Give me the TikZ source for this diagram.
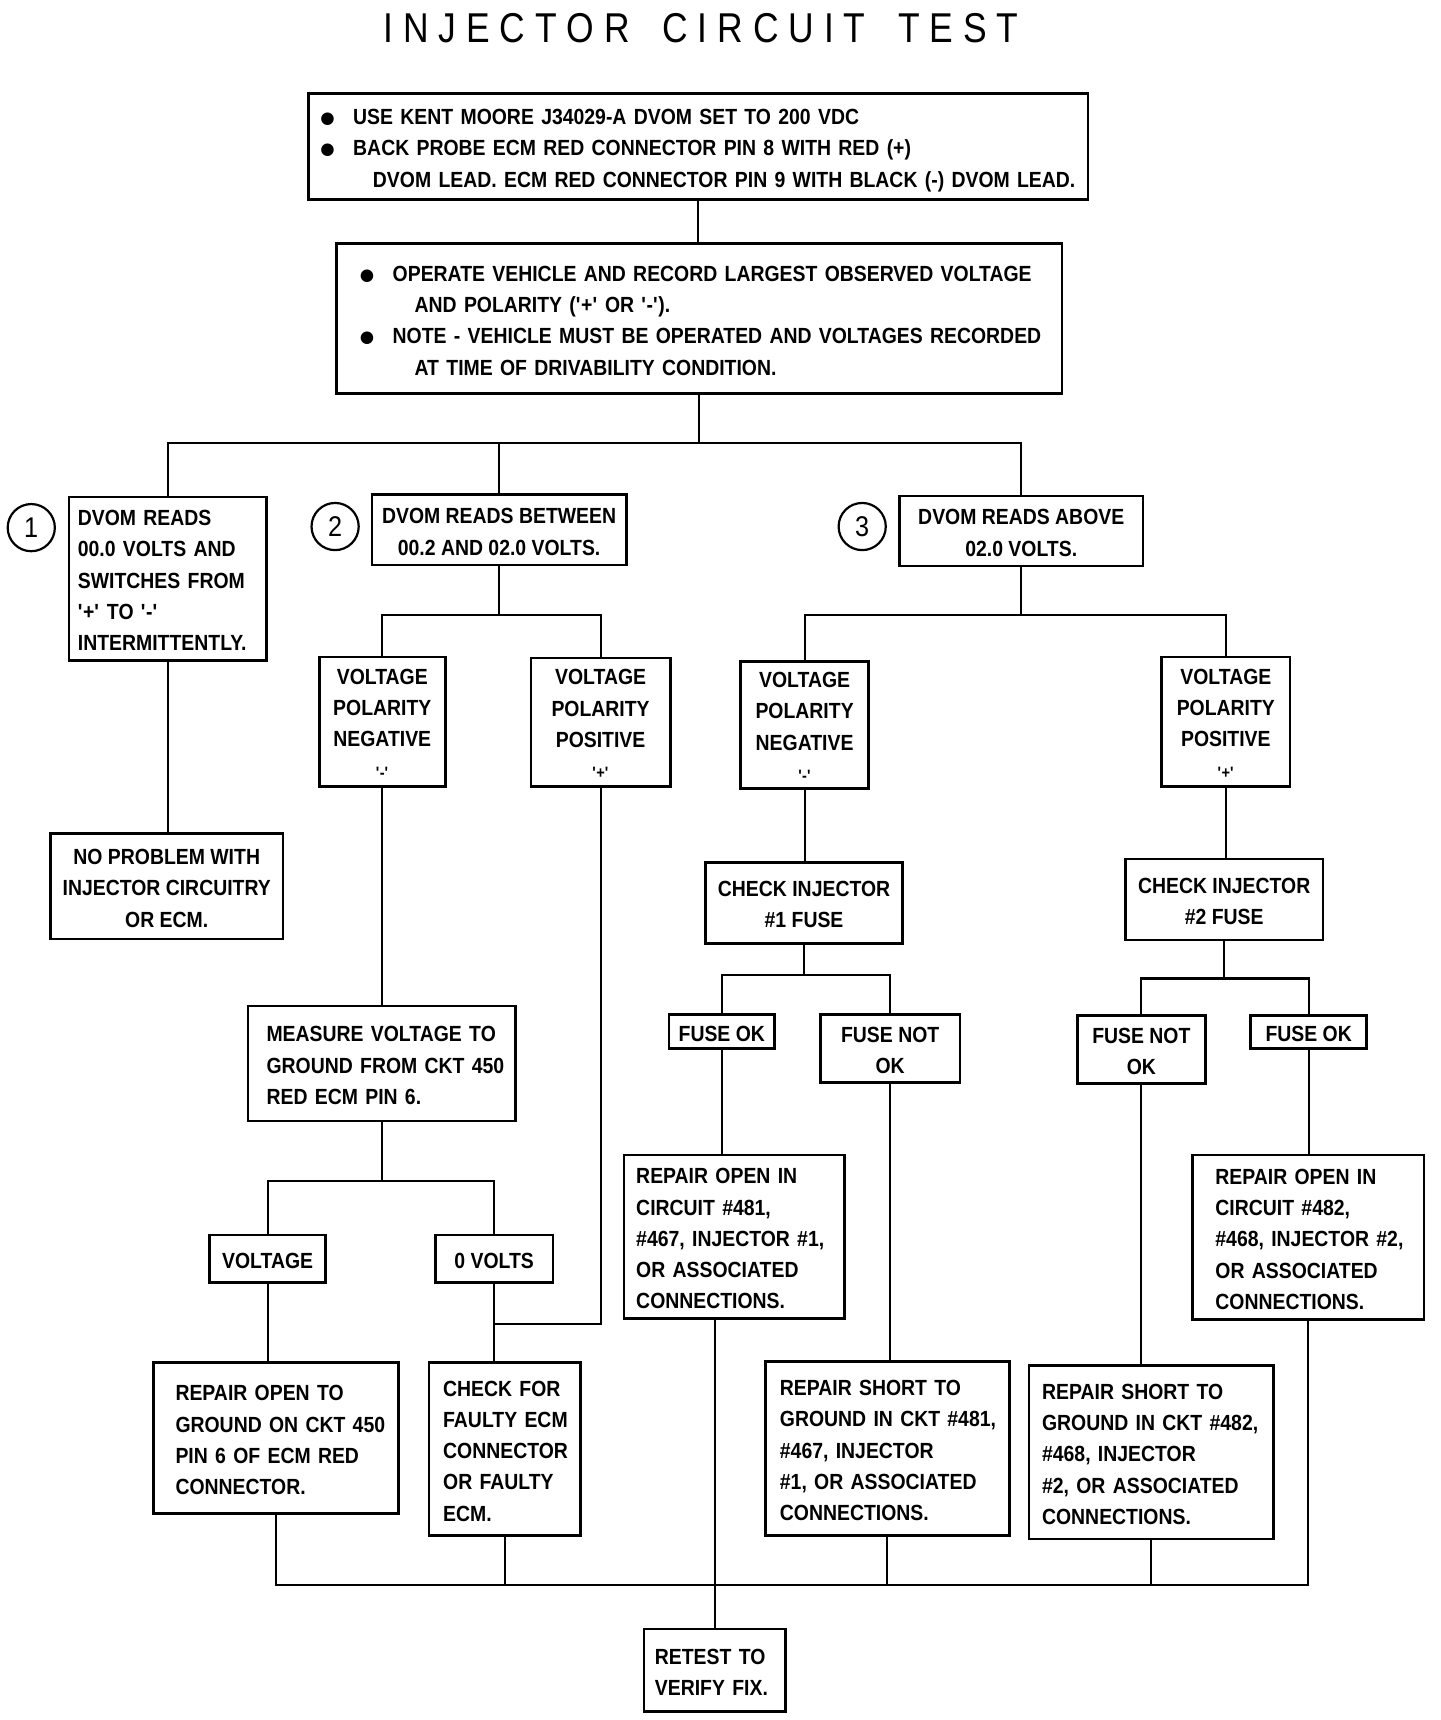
\documentclass[tikz,border=0pt]{standalone}
\usepackage{fontspec}
\setmainfont{Liberation Sans}
\newfontfamily\boxfont{Liberation Sans}[FakeStretch=0.885]
\newfontfamily\titlefont{Liberation Sans}[FakeStretch=0.85]
\newfontfamily\dejavu{DejaVu Sans}
\newcommand\qs[1]{\textquotesingle#1\textquotesingle}
\newcommand\bul{\makebox[30pt][l]{\raisebox{1pt}{\dejavu\fontsize{15}{15}\selectfont ●}}}
\newcommand\tl[1]{\raisebox{-3pt}[\height][\depth]{\begin{tabular}{@{}l@{}}#1\end{tabular}}}
\newcommand\tc[1]{\raisebox{-3pt}[\height][\depth]{\begin{tabular}{@{}c@{}}#1\end{tabular}}}
\newcommand\lk{\kern9pt}
\newcommand\smq[1]{{\fontsize{15}{15}\selectfont\qs{#1}}}
\begin{document}
\begin{tikzpicture}[x=1pt,y=-1pt,
  box/.style={draw, line width=2.4pt, inner sep=0pt, font=\boxfont\bfseries\fontsize{20}{28.5}\selectfont},
  lbox/.style={box, align=left},
  conn/.style={line width=1.9pt},
  num/.style={circle, draw, line width=2pt, minimum size=43pt, inner sep=0pt, font=\boxfont\fontsize{26}{26}\selectfont}]
\useasboundingbox (0,0) rectangle (1313,1568);

% title
\node[font=\titlefont\fontsize{38}{38}\selectfont] (title) at (639,26)
  {I\lk N\lk J\lk E\lk C\lk T\lk O\lk R\hspace{30pt}C\lk I\lk R\lk C\lk U\lk I\lk T\hspace{30pt}T\lk E\lk S\lk T};

% top boxes
\node[lbox, minimum width=711pt, minimum height=97pt, text width=689pt] (a) at (636.5,133.5)
  {\tl{\bul USE KENT MOORE J34029-A DVOM SET TO 200 VDC\\
       \bul BACK PROBE ECM RED CONNECTOR PIN 8 WITH RED (+)\\
       \hspace*{48pt}DVOM LEAD. ECM RED CONNECTOR PIN 9 WITH BLACK (-) DVOM LEAD.}};
\node[lbox, minimum width=661pt, minimum height=137pt, text width=619pt] (b) at (637.5,290.5)
  {\tl{\bul OPERATE VEHICLE AND RECORD LARGEST OBSERVED VOLTAGE\\
       \hspace*{50pt}AND POLARITY (\qs{+} OR \qs{-}).\\
       \bul NOTE - VEHICLE MUST BE OPERATED AND VOLTAGES RECORDED\\
       \hspace*{50pt}AT TIME OF DRIVABILITY CONDITION.}};

% circled numbers
\node[num] (n1) at (28.5,481) {1};
\node[num] (n2) at (305.5,480) {2};
\node[num] (n3) at (786,480) {3};

% branch 1
\node[lbox, minimum width=180pt, minimum height=149pt, text width=164pt] (c1) at (153,527.5)
  {\tl{DVOM READS\\00.0 VOLTS AND\\SWITCHES FROM\\\qs{+} TO \qs{-}\\INTERMITTENTLY.}};
\node[box, minimum width=212pt, minimum height=96pt] (d1) at (152,808)
  {\tc{NO PROBLEM WITH\\INJECTOR CIRCUITRY\\OR ECM.}};

% branch 2
\node[box, minimum width=232pt, minimum height=64pt] (c2) at (455,483)
  {\tc{DVOM READS BETWEEN\\00.2 AND 02.0 VOLTS.}};
\node[box, minimum width=115pt, minimum height=118pt] (e1) at (348.5,658)
  {\tc{VOLTAGE\\POLARITY\\NEGATIVE\\\smq{-}}};
\node[box, minimum width=127pt, minimum height=117pt] (e2) at (547.5,658.5)
  {\tc{VOLTAGE\\POLARITY\\POSITIVE\\\smq{+}}};
\node[lbox, minimum width=244pt, minimum height=105pt, text width=210pt] (f1) at (348,969.5)
  {\tl{MEASURE VOLTAGE TO\\GROUND FROM CKT 450\\RED ECM PIN 6.}};
\node[box, minimum width=106pt, minimum height=43pt] (g1) at (244,1147.5) {\tc{VOLTAGE}};
\node[box, minimum width=107pt, minimum height=43pt] (g2) at (450.5,1147.5) {\tc{0 VOLTS}};
\node[lbox, minimum width=223pt, minimum height=138pt, text width=183pt] (h1) at (251.5,1311)
  {\tl{REPAIR OPEN TO\\GROUND ON CKT 450\\PIN 6 OF ECM RED\\CONNECTOR.}};
\node[lbox, minimum width=138pt, minimum height=158pt, text width=112pt] (h2) at (460,1321)
  {\tl{CHECK FOR\\FAULTY ECM\\CONNECTOR\\OR FAULTY\\ECM.}};

% branch 3
\node[box, minimum width=222pt, minimum height=64pt] (c3) at (931,484)
  {\tc{DVOM READS ABOVE\\02.0 VOLTS.}};
\node[box, minimum width=117pt, minimum height=116pt] (e3) at (733.5,661)
  {\tc{VOLTAGE\\POLARITY\\NEGATIVE\\\smq{-}}};
\node[box, minimum width=117pt, minimum height=118pt] (e4) at (1117.5,658)
  {\tc{VOLTAGE\\POLARITY\\POSITIVE\\\smq{+}}};
\node[box, minimum width=180pt, minimum height=74pt] (j1) at (733,823)
  {\tc{CHECK INJECTOR\\\#1 FUSE}};
\node[box, minimum width=180pt, minimum height=74pt] (j2) at (1116,820)
  {\tc{CHECK INJECTOR\\\#2 FUSE}};
\node[box, minimum width=96pt, minimum height=31pt] (k1) at (658,940.5) {\tc{FUSE OK}};
\node[box, minimum width=127pt, minimum height=62pt] (k2) at (811.5,956) {\tc{FUSE NOT\\OK}};
\node[box, minimum width=117pt, minimum height=62pt] (k3) at (1040.5,957) {\tc{FUSE NOT\\OK}};
\node[box, minimum width=106pt, minimum height=30pt] (k4) at (1193,941) {\tc{FUSE OK}};
\node[lbox, minimum width=201pt, minimum height=149pt, text width=179pt] (l1) at (669.5,1127.5)
  {\tl{REPAIR OPEN IN\\CIRCUIT \#481,\\\#467, INJECTOR \#1,\\OR ASSOCIATED\\CONNECTIONS.}};
\node[lbox, minimum width=222pt, minimum height=159pt, text width=196pt] (m1) at (809,1320.5)
  {\tl{REPAIR SHORT TO\\GROUND IN CKT \#481,\\\#467, INJECTOR\\\#1, OR ASSOCIATED\\CONNECTIONS.}};
\node[lbox, minimum width=223pt, minimum height=158pt, text width=199pt] (n1b) at (1049.5,1324)
  {\tl{REPAIR SHORT TO\\GROUND IN CKT \#482,\\\#468, INJECTOR\\\#2, OR ASSOCIATED\\CONNECTIONS.}};
\node[lbox, minimum width=211pt, minimum height=150pt, text width=169pt] (p1) at (1192.5,1128)
  {\tl{REPAIR OPEN IN\\CIRCUIT \#482,\\\#468, INJECTOR \#2,\\OR ASSOCIATED\\CONNECTIONS.}};
\node[lbox, minimum width=129pt, minimum height=75pt, text width=109pt] (rt) at (651.5,1522.5)
  {\tl{RETEST TO\\VERIFY FIX.}};

% bus coordinates
\coordinate (bus1) at (636,404);
\coordinate (bus2) at (456,561);
\coordinate (bus3) at (348,1077);
\coordinate (bus4) at (931,561);
\coordinate (bus5) at (733,889);
\coordinate (bus6) at (1116,892);
\coordinate (bus7) at (652,1445);
\coordinate (jn) at (548,1207);

% connectors
\draw[conn] (a.south) -- (a.south |- b.north);
\draw[conn] (b.south) -- (b.south |- bus1);
\draw[conn] (c1.north) |- (bus1) -| (c3.north);
\draw[conn] (c2.north) -- (c2.north |- bus1);
\draw[conn] (c1.south) -- (c1.south |- d1.north);

\draw[conn] (c2.south) -- (c2.south |- bus2);
\draw[conn] (e1.north) |- (bus2) -| (e2.north);
\draw[conn] (e1.south) -- (e1.south |- f1.north);
\draw[conn] (f1.south) -- (f1.south |- bus3);
\draw[conn] (g1.north) |- (bus3) -| (g2.north);
\draw[conn] (g1.south) -- (g1.south |- h1.north);
\draw[conn] (g2.south) -- (g2.south |- h2.north);
\draw[conn] (e2.south) |- (g2.south |- jn);

\draw[conn] (c3.south) -- (c3.south |- bus4);
\draw[conn] (e3.north) |- (bus4) -| (e4.north);
\draw[conn] (e3.south) -- (e3.south |- j1.north);
\draw[conn] (e4.south) -- (e4.south |- j2.north);
\draw[conn] (j1.south) -- (j1.south |- bus5);
\draw[conn] (k1.north) |- (bus5) -| (k2.north);
\draw[conn] (j2.south) -- (j2.south |- bus6);
\draw[conn] (k3.north) |- (bus6) -| (k4.north);
\draw[conn] (k1.south) -- (k1.south |- l1.north);
\draw[conn] (k2.south) -- (k2.south |- m1.north);
\draw[conn] (k3.south) -- (k3.south |- n1b.north);
\draw[conn] (k4.south) -- (k4.south |- p1.north);

\draw[conn] (h1.south) |- (p1.south |- bus7) -- (p1.south);
\draw[conn] (h2.south) -- (h2.south |- bus7);
\draw[conn] (m1.south) -- (m1.south |- bus7);
\draw[conn] (n1b.south) -- (n1b.south |- bus7);
\draw[conn] (rt.north |- l1.south) -- (rt.north);
\end{tikzpicture}
\end{document}
